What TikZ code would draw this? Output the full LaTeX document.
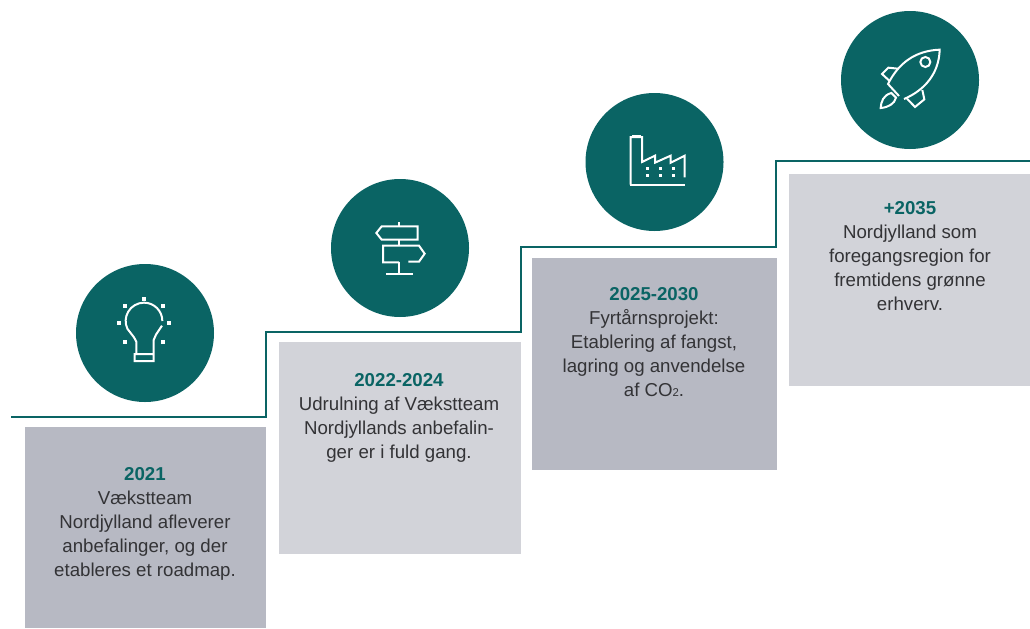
\documentclass[tikz,border=0pt]{standalone}
\usepackage{fontspec}
\setmainfont{Liberation Sans}
\definecolor{teal}{HTML}{0A6464}
\definecolor{boxdark}{HTML}{B7B9C3}
\definecolor{boxlight}{HTML}{D2D3D9}
\definecolor{txt}{HTML}{333336}
\tikzset{
  x=0.75pt,y=-0.75pt,
  disc/.style={circle,fill=teal,draw=none,minimum size=103.5pt,inner sep=0pt},
  boxd/.style={rectangle,fill=boxdark,draw=none,anchor=north west,inner sep=0pt},
  boxl/.style={rectangle,fill=boxlight,draw=none,anchor=north west,inner sep=0pt},
  caption/.style={anchor=north,align=center,text=txt,inner sep=0pt,font=\fontsize{14pt}{18pt}\selectfont},
  stair/.style={draw=teal,line width=2.1pt,line join=miter},
  icon/.style={draw=white,line width=1.5pt,line join=miter,fill=none},
  dot/.style={fill=white,draw=none},
}
\newcommand{\yr}[1]{{\bfseries\color{teal}#1}}
\begin{document}
\begin{tikzpicture}
\useasboundingbox (0,0) rectangle (1030,628);
\fill[white] (0,0) rectangle (1030,628);
% boxes
\node[boxd,minimum width=180.75pt,minimum height=150.75pt] (b1) at (25,427) {};
\node[boxl,minimum width=181.5pt,minimum height=159pt] (b2) at (279,342) {};
\node[boxd,minimum width=183.75pt,minimum height=159pt] (b3) at (532,258) {};
\node[boxl,minimum width=180.75pt,minimum height=159pt] (b4) at (789,174) {};
% stair
\coordinate (s0) at (11,417);
\coordinate (s1) at (266,417);
\coordinate (s2) at (266,332);
\coordinate (s3) at (521,332);
\coordinate (s4) at (521,247);
\coordinate (s5) at (776,247);
\coordinate (s6) at (776,161);
\coordinate (s7) at (1030,161);
\draw[stair] (s0) -- (s1) -- (s2) -- (s3) -- (s4) -- (s5) -- (s6) -- (s7);
% discs
\node[disc] (c1) at (145,333) {};
\node[disc] (c2) at (400,248) {};
\node[disc] (c3) at (654.5,162) {};
\node[disc] (c4) at (910,80) {};
% texts
\node[caption] (t1) at (145,467) {\yr{2021}\\Vækstteam\\Nordjylland afleverer\\anbefalinger, og der\\etableres et roadmap.};
\node[caption] (t2) at (399,373) {\yr{2022-2024}\\Udrulning af Vækstteam\\Nordjyllands anbefalin-\\ger er i fuld gang.};
\node[caption] (t3) at (654,287) {\yr{2025-2030}\\Fyrtårnsprojekt:\\Etablering af fangst,\\lagring og anvendelse\\af CO\raisebox{-0.5pt}{\fontsize{8.5pt}{8.5pt}\selectfont 2}.};
\node[caption] (t4) at (910,201) {\yr{+2035}\\Nordjylland som\\foregangsregion for\\fremtidens grønne\\erhverv.};
% bulb
\begin{scope}[shift={(70,260)},x=.25pt,y=-.25pt]
\draw[icon] (277,183) arc[start angle=0,end angle=-205,radius=55] -- (192,232) -- (199,245) -- (199,282);
\draw[icon] (276,197) -- (258,224) -- (251,240) -- (251,303) -- (194,303) -- (194,282) -- (251,282);
\foreach \p in {(222,117),(165,138),(279,138),(147,188),(297,188),(165,245),(279,245)}
  \fill[dot] \p ++(-6,-6) rectangle ++(12,12);
\end{scope}
% signpost
\begin{scope}[shift={(325,175)},x=.25pt,y=-.25pt]
\draw[icon] (222,142) -- (222,152);
\draw[icon] (222,194) -- (222,212);
\draw[icon] (222,262) -- (222,296);
\draw[icon] (183,296) -- (265,296);
\draw[icon] (278,154) -- (170,154) -- (154,174) -- (170,194) -- (278,194) -- cycle;
\draw[icon] (250,260) -- (282,260) -- (299,236) -- (282,212) -- (174,212) -- (174,262) -- (222,262);
\end{scope}
% factory
\begin{scope}[shift={(580,90)},x=.25pt,y=-.25pt]
\draw[icon] (152,284) -- (152,141) -- (186,141) -- (186,216) -- (225,197) -- (225,218) -- (272,197) -- (272,218) -- (314,197) -- (314,262);
\draw[icon] (150,284) -- (315,284);
\fill[dot] (157,134) rectangle (182,141);
\foreach \x in {202,241,280} \foreach \y in {236,256}
  \fill[dot] (\x-5,\y-5) rectangle (\x+5,\y+5);
\end{scope}
% rocket
\begin{scope}[shift={(835,0)},x=.25pt,y=-.25pt]
\draw[icon] (192,288) -- (159,252) .. controls (190,190) and (240,152) .. (314,149) .. controls (312,220) and (270,270) .. (207,297);
\draw[icon] (188,206) -- (160,203) -- (141,222) -- (165,244);
\draw[icon] (262,270) -- (268,298) -- (240,321) -- (216,296);
\draw[icon] (169,279) .. controls (145,285) and (138,305) .. (137,324) .. controls (160,322) and (178,312) .. (183,293) -- cycle;
\draw[icon] (271,186) circle[radius=15];
\end{scope}
\end{tikzpicture}
\end{document}
